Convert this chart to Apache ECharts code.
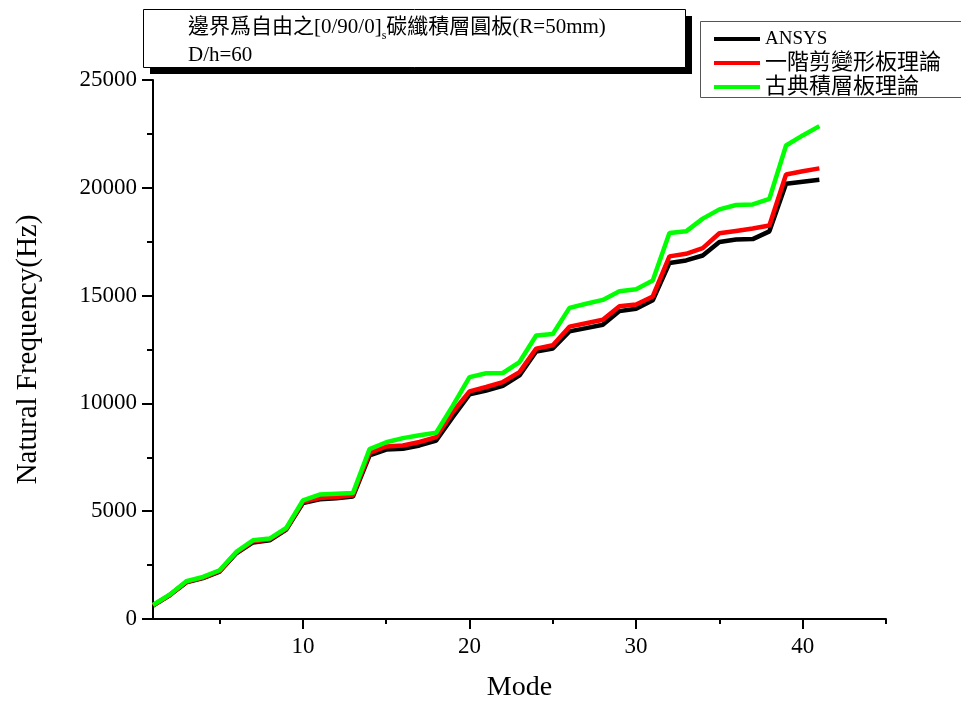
<!DOCTYPE html>
<html>
<head>
<meta charset="utf-8">
<script src="https://cdn.jsdelivr.net/npm/echarts@6/dist/echarts.min.js"></script>
<style>
  html, body { margin: 0; padding: 0; background: #fff; }
  #chart { width: 961px; height: 704px; }
</style>
</head>
<body>
<div id="chart"></div>
<script>
// Mode numbers
const modes = [1, 2, 3, 4, 5, 6, 7, 8, 9, 10, 11, 12, 13, 14, 15, 16, 17, 18, 19, 20,
  21, 22, 23, 24, 25, 26, 27, 28, 29, 30, 31, 32, 33, 34, 35, 36, 37, 38, 39, 40, 41];

// Natural frequencies (Hz)
const ansys = [620, 1100, 1700, 1900, 2200, 3050, 3550, 3650, 4150, 5380, 5550, 5600, 5680,
  7590, 7860, 7900, 8050, 8280, 9370, 10420, 10600, 10820, 11300, 12410, 12550, 13340, 13490,
  13650, 14280, 14390, 14780, 16510, 16630, 16860, 17490, 17600, 17620, 17980, 20190, 20280, 20370];
const fsdt = [630, 1110, 1720, 1920, 2230, 3080, 3600, 3690, 4180, 5430, 5610, 5660, 5740,
  7700, 8000, 8050, 8210, 8440, 9600, 10560, 10760, 10990, 11450, 12540, 12700, 13560, 13720,
  13880, 14510, 14590, 14960, 16820, 16940, 17200, 17890, 18000, 18110, 18250, 20620, 20770, 20900];
const clpt = [650, 1130, 1750, 1950, 2260, 3110, 3650, 3730, 4220, 5500, 5770, 5810, 5840,
  7880, 8200, 8390, 8520, 8640, 9900, 11220, 11400, 11410, 11920, 13150, 13220, 14430, 14620,
  14800, 15200, 15290, 15700, 17900, 17980, 18570, 19000, 19200, 19230, 19490, 21960, 22430, 22860];

const seriesNames = ['ANSYS', '一階剪變形板理論', '古典積層板理論'];
const seriesColors = ['#000000', '#ff0000', '#00ff00'];

const xLabelValues = [10, 20, 30, 40];
const xMinorValues = [5, 15, 25, 35, 45];

const FONT = "'Liberation Serif', 'Noto Sans CJK TC', serif";

const chart = echarts.init(document.getElementById('chart'), null, { renderer: 'canvas' });

const toPairs = arr => modes.map((m, i) => [m, arr[i]]);

const option = {
  animation: false,
  backgroundColor: '#ffffff',
  grid: { left: 153, right: 75, top: 80, bottom: 85, containLabel: false, outerBoundsMode: 'none' },
  xAxis: [
    {
      type: 'value', min: 1, max: 45,
      name: 'Mode', nameLocation: 'middle', nameGap: 55,
      nameTextStyle: { fontFamily: FONT, fontSize: 28, color: '#000' },
      axisLine: { show: true, onZero: false, lineStyle: { color: '#000', width: 2 } },
      axisTick: { show: true, customValues: xLabelValues, length: 10, lineStyle: { color: '#000', width: 2 } },
      axisLabel: { show: true, customValues: xLabelValues, fontFamily: FONT, fontSize: 23, color: '#000', margin: 16 },
      splitLine: { show: false }
    },
    {
      type: 'value', min: 1, max: 45, position: 'bottom', offset: 0,
      axisLine: { show: false },
      axisTick: { show: true, customValues: xMinorValues, length: 5, lineStyle: { color: '#000', width: 2 } },
      axisLabel: { show: false },
      splitLine: { show: false }
    }
  ],
  yAxis: {
    type: 'value', min: 0, max: 25000, interval: 5000,
    name: 'Natural Frequency(Hz)', nameLocation: 'middle', nameGap: 110,
    nameTextStyle: { fontFamily: FONT, fontSize: 29, color: '#000' },
    axisLine: { show: true, lineStyle: { color: '#000', width: 2 } },
    axisTick: { show: true, length: 11, lineStyle: { color: '#000', width: 2 } },
    minorTick: { show: true, splitNumber: 2, length: 6, lineStyle: { color: '#000', width: 2 } },
    axisLabel: { fontFamily: FONT, fontSize: 23, color: '#000', margin: 16, formatter: v => String(v) },
    splitLine: { show: false },
    minorSplitLine: { show: false }
  },
  legend: {
    orient: 'vertical', left: 714, top: 28, padding: 0,
    itemWidth: 46, itemHeight: 4, itemGap: 2, icon: 'rect',
    data: seriesNames,
    formatter: name => name === 'ANSYS' ? '{l|ANSYS}' : name,
    textStyle: {
      fontFamily: FONT, fontSize: 22, color: '#000', lineHeight: 22,
      rich: { l: { fontFamily: FONT, fontSize: 19, color: '#000', lineHeight: 22 } }
    },
    z: 10
  },
  graphic: [
    // title box with drop shadow
    { type: 'rect', z: 5, shape: { x: 150, y: 16, width: 542, height: 58 }, style: { fill: '#000' } },
    { type: 'rect', z: 6, shape: { x: 143.5, y: 9.5, width: 542, height: 58 }, style: { fill: '#fff', stroke: '#000', lineWidth: 1 } },
    {
      type: 'text', z: 7, x: 188, y: 27,
      style: {
        text: '{n|邊界爲自由之[0/90/0]}{s|s}{n|碳纖積層圓板(R=50mm)}',
        verticalAlign: 'middle', align: 'left',
        rich: {
          n: { fontFamily: FONT, fontSize: 21, fill: '#000', lineHeight: 30, verticalAlign: 'middle' },
          s: { fontFamily: FONT, fontSize: 12, fill: '#000', lineHeight: 12, verticalAlign: 'bottom' }
        }
      }
    },
    {
      type: 'text', z: 7, x: 188, y: 55,
      style: { text: 'D/h=60', fontFamily: FONT, fontSize: 21, fill: '#000', verticalAlign: 'middle', align: 'left' }
    },
    // legend frame
    { type: 'rect', z: 5, shape: { x: 700.5, y: 21.5, width: 262, height: 76 }, style: { fill: '#fff', stroke: '#555', lineWidth: 1 } }
  ],
  series: seriesNames.map((name, k) => ({
    name: name,
    type: 'line',
    xAxisIndex: 0,
    symbol: 'none',
    z: 2 + k,
    lineStyle: { color: seriesColors[k], width: 4.5 },
    itemStyle: { color: seriesColors[k] },
    data: toPairs([ansys, fsdt, clpt][k])
  }))
};

chart.setOption(option);
</script>
</body>
</html>
